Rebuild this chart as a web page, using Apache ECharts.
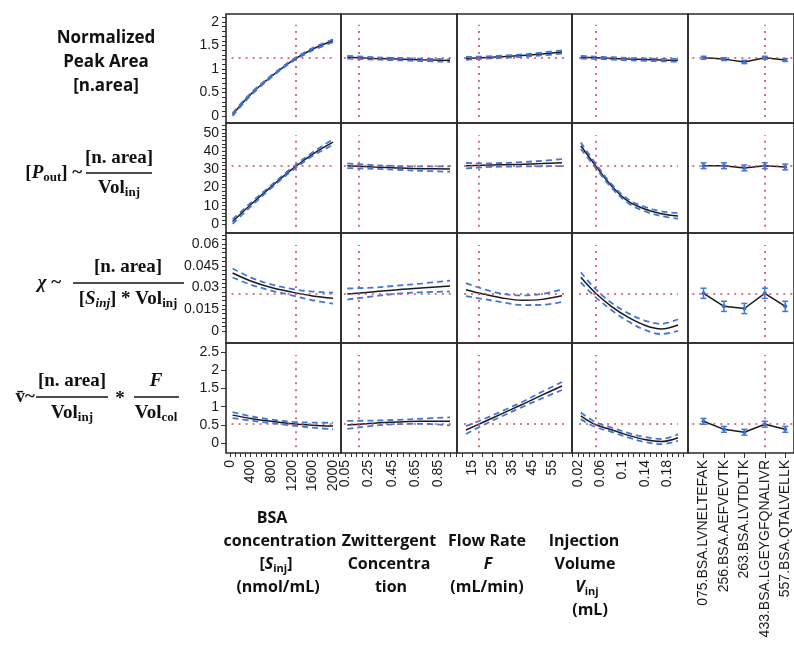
<!DOCTYPE html>
<html>
<head>
<meta charset="utf-8">
<script src="https://cdn.jsdelivr.net/npm/echarts/dist/echarts.min.js"></script>
<style>
  html, body { margin: 0; padding: 0; background: #fff; }
  #chart { width: 794px; height: 654px; }
</style>
</head>
<body>
<div id="chart"></div>
<script>
// ---- factor settings along each profile ----
const bsaLevels  = [50, 400, 800, 1200, 1600, 2000];
const zwLevels   = [0.07, 0.3, 0.5, 0.7, 0.95];
const flowLevels = [12, 20, 30, 40, 50, 60];
const volLevels  = [0.025, 0.05, 0.08, 0.11, 0.14, 0.17, 0.2];
const peptides   = ['075.BSA.LVNELTEFAK', '256.BSA.AEFVEVTK', '263.BSA.LVTDLTK',
                    '433.BSA.LGEYGFQNALIVR', '557.BSA.QTALVELLK'];

// ---- tick labels ----
const bsaTicks  = [0, 400, 800, 1200, 1600, 2000];
const zwTicks   = [0.05, 0.25, 0.45, 0.65, 0.85];
const flowTicks = [15, 25, 35, 45, 55];
const volTicks  = [0.02, 0.06, 0.1, 0.14, 0.18];
const pepTicks  = [0, 1, 2, 3, 4];
const areaTicks = [0, 0.5, 1, 1.5, 2];
const poutTicks = [0, 10, 20, 30, 40, 50];
const chiTicks  = [0, 0.015, 0.03, 0.045, 0.06];
const vbarTicks = [0, 0.5, 1, 1.5, 2, 2.5];

// ---- current settings (profiler cross-hairs) ----
const currentX = [1282, 0.17, 18.5, 0.052, 3];
const currentY = [1.24, 32, 0.026, 0.52];

// ---- Normalized peak area ----
const areaByBsa   = [0.03, 0.46, 0.84, 1.17, 1.42, 1.6];
const areaBsaCi   = [0.03, 0.025, 0.02, 0.02, 0.025, 0.03];
const areaByZw    = [1.25, 1.225, 1.21, 1.195, 1.18];
const areaZwCi    = [0.03, 0.025, 0.025, 0.025, 0.03];
const areaByFlow  = [1.225, 1.24, 1.26, 1.285, 1.32, 1.36];
const areaFlowCi  = [0.03, 0.025, 0.025, 0.025, 0.03, 0.035];
const areaByVol   = [1.25, 1.24, 1.225, 1.21, 1.2, 1.19, 1.185];
const areaVolCi   = [0.03, 0.025, 0.025, 0.025, 0.025, 0.025, 0.03];
const areaByPep   = [1.24, 1.21, 1.15, 1.24, 1.19];
const areaPepErr  = [0.03, 0.03, 0.035, 0.03, 0.03];

// ---- [P_out] ----
const poutByBsa   = [1.3, 10.5, 20.5, 30, 38.3, 45];
const poutBsaCi   = [1.2, 1, 0.8, 0.8, 1, 1.5];
const poutByZw    = [32, 31.3, 30.8, 30.4, 30.2];
const poutZwCi    = [1.3, 1, 1, 1.2, 1.5];
const poutByFlow  = [32, 32.2, 32.5, 32.8, 33.2, 33.7];
const poutFlowCi  = [1.5, 1.1, 1, 1.2, 1.5, 1.9];
const poutByVol   = [43, 32.7, 21, 12.5, 8.2, 5.6, 4.4];
const poutVolCi   = [1.8, 1.2, 1, 1, 1.2, 1.3, 1.6];
const poutByPep   = [32, 32, 30.8, 32, 31.3];
const poutPepErr  = [1.6, 1.6, 1.6, 1.6, 1.6];

// ---- chi ----
const chiByBsa    = [0.040, 0.0345, 0.030, 0.0268, 0.0242, 0.0226];
const chiBsaCi    = [0.0031, 0.0025, 0.0021, 0.0022, 0.003, 0.0038];
const chiByZw     = [0.0255, 0.027, 0.0285, 0.0297, 0.031];
const chiZwCi     = [0.0038, 0.003, 0.0028, 0.003, 0.0038];
const chiByFlow   = [0.0285, 0.0257, 0.0228, 0.0212, 0.0218, 0.0243];
const chiFlowCi   = [0.0045, 0.0035, 0.003, 0.0033, 0.0038, 0.0043];
const chiByVol    = [0.037, 0.0267, 0.017, 0.0095, 0.004, 0.0014, 0.0041];
const chiVolCi    = [0.0035, 0.0028, 0.0025, 0.0028, 0.0032, 0.0035, 0.004];
const chiByPep    = [0.026, 0.017, 0.0155, 0.026, 0.017];
const chiPepErr   = [0.0035, 0.0035, 0.0035, 0.0035, 0.0035];

// ---- mean velocity ----
const vbarByBsa   = [0.77, 0.68, 0.6, 0.535, 0.495, 0.47];
const vbarBsaCi   = [0.08, 0.06, 0.05, 0.05, 0.07, 0.09];
const vbarByZw    = [0.5, 0.55, 0.58, 0.6, 0.6];
const vbarZwCi    = [0.11, 0.07, 0.06, 0.07, 0.11];
const vbarByFlow  = [0.36, 0.56, 0.81, 1.06, 1.32, 1.57];
const vbarFlowCi  = [0.11, 0.08, 0.07, 0.07, 0.09, 0.11];
const vbarByVol   = [0.75, 0.52, 0.37, 0.22, 0.1, 0.045, 0.15];
const vbarVolCi   = [0.09, 0.07, 0.06, 0.06, 0.07, 0.07, 0.09];
const vbarByPep   = [0.6, 0.38, 0.3, 0.52, 0.38];
const vbarPepErr  = [0.08, 0.08, 0.08, 0.08, 0.08];

// ---- layout of the 4 x 5 profiler panels ----
const colLeft  = [226, 341, 457, 572, 688];
const colWidth = [115, 116, 115, 116, 109];
const rowTop   = [14, 123, 233, 343];
const rowH     = [109, 110, 110, 110];

function steps(a, b, s) {
  const out = [];
  for (let k = 0; a + k * s <= b + s * 1e-6; k++) out.push(+(a + k * s).toFixed(6));
  return out;
}

const levels = [bsaLevels, zwLevels, flowLevels, volLevels];
// tick marks include the finer subdivisions; labels only sit on the main ticks
const cols = [
  { min: -78,    max: 2155,  ticks: bsaTicks,  marks: steps(0, 2100, 100),    span: [30, 1990] },
  { min: 0.016,  max: 1.01,  ticks: zwTicks,   marks: steps(0.05, 1.0, 0.05), span: [0.04, 0.96] },
  { min: 7.5,    max: 65,    ticks: flowTicks, marks: steps(10, 60, 5),       span: [11, 61] },
  { min: 0.0092, max: 0.218, ticks: volTicks,  marks: steps(0.01, 0.21, 0.01), span: [0.022, 0.2] },
  { min: -0.76,  max: 4.43,  ticks: pepTicks,  marks: pepTicks,               span: [-0.55, 4.43] }
];
const rows = [
  { min: -0.149, max: 2.17,   ticks: areaTicks, marks: steps(0, 2.1, 0.1),
    vspan: [-0.02, 1.94], curves: [areaByBsa, areaByZw, areaByFlow, areaByVol],
    cis: [areaBsaCi, areaZwCi, areaFlowCi, areaVolCi], pep: areaByPep, pepErr: areaPepErr },
  { min: -5,     max: 55.5,   ticks: poutTicks, marks: steps(0, 54, 2),
    vspan: [-1.6, 48.9], curves: [poutByBsa, poutByZw, poutByFlow, poutByVol],
    cis: [poutBsaCi, poutZwCi, poutFlowCi, poutVolCi], pep: poutByPep, pepErr: poutPepErr },
  { min: -0.0083, max: 0.0676, ticks: chiTicks, marks: steps(0, 0.066, 0.003),
    vspan: [-0.0041, 0.0593], curves: [chiByBsa, chiByZw, chiByFlow, chiByVol],
    cis: [chiBsaCi, chiZwCi, chiFlowCi, chiVolCi], pep: chiByPep, pepErr: chiPepErr },
  { min: -0.27,  max: 2.75,   ticks: vbarTicks, marks: vbarTicks,
    vspan: [-0.11, 2.42], curves: [vbarByBsa, vbarByZw, vbarByFlow, vbarByVol],
    cis: [vbarBsaCi, vbarZwCi, vbarFlowCi, vbarVolCi], pep: vbarByPep, pepErr: vbarPepErr }
];

const INK = '#1a1a1a';
const BLUE = '#4676d4';
const REF = '#d24a5e';
const tickFont = 'Liberation Sans';

const grid = [], xAxis = [], yAxis = [], series = [];

rows.forEach((row, r) => {
  cols.forEach((col, c) => {
    const g = r * 5 + c;
    grid.push({ left: colLeft[c], top: rowTop[r], width: colWidth[c], height: rowH[r],
                show: true, borderColor: '#2a2a2a', borderWidth: 1.6 });
    const bottom = r === 3;
    xAxis.push({
      gridIndex: g, type: 'value', min: col.min, max: col.max, position: 'bottom',
      axisLine: { show: false, onZero: false }, splitLine: { show: false },
      axisTick: { show: bottom, customValues: col.marks, length: c === 4 ? 5 : 4,
                  lineStyle: { color: '#333', width: 1 } },
      axisLabel: {
        show: bottom, customValues: col.ticks, rotate: 90, margin: 7, fontSize: 14,
        fontFamily: tickFont, color: INK,
        formatter: c === 4 ? (v => peptides[Math.round(v)]) : (v => String(v))
      }
    });
    const first = c === 0;
    yAxis.push({
      gridIndex: g, type: 'value', min: row.min, max: row.max, position: 'left',
      axisLine: { show: false, onZero: false }, splitLine: { show: false },
      axisTick: { show: first, customValues: row.marks, length: r === 3 ? 5 : 4,
                  lineStyle: { color: '#333', width: 1 } },
      axisLabel: { show: first, customValues: row.ticks, margin: 7, fontSize: 14,
                   fontFamily: tickFont, color: INK, formatter: v => String(v) }
    });

    const refLines = {
      silent: true, symbol: ['none', 'none'], label: { show: false },
      lineStyle: { color: REF, type: [2, 5], width: 1.6 },
      emphasis: { disabled: true },
      data: [
        [{ coord: [col.span[0], currentY[r]] }, { coord: [col.span[1], currentY[r]] }],
        [{ coord: [currentX[c], row.vspan[0]] }, { coord: [currentX[c], row.vspan[1]] }]
      ]
    };

    if (c < 4) {
      const xs = levels[c], ys = row.curves[c], ci = row.cis[c];
      const lower = xs.map((x, i) => [x, ys[i] - ci[i]]);
      const upper = xs.map((x, i) => [x, ys[i] + ci[i]]);
      const mid = xs.map((x, i) => [x, ys[i]]);
      const common = { xAxisIndex: g, yAxisIndex: g, type: 'line', smooth: 0.35, symbol: 'none',
                       silent: true, animation: false };
      series.push(Object.assign({}, common, { data: mid, z: 3,
        lineStyle: { color: INK, width: 1.5 }, markLine: refLines }));
      series.push(Object.assign({}, common, { data: lower, z: 4,
        lineStyle: { color: BLUE, width: 1.8, type: [6, 4] } }));
      series.push(Object.assign({}, common, { data: upper, z: 4,
        lineStyle: { color: BLUE, width: 1.8, type: [6, 4] } }));
    } else {
      const pts = row.pep.map((v, i) => [i, v]);
      series.push({ xAxisIndex: g, yAxisIndex: g, type: 'line', data: pts, z: 3,
        symbol: 'circle', symbolSize: 4, itemStyle: { color: '#2f5fbf' },
        lineStyle: { color: INK, width: 1.5 }, silent: true, animation: false, markLine: refLines });
      const bars = row.pep.map((v, i) => [i, v - row.pepErr[i], v + row.pepErr[i]]);
      series.push({
        xAxisIndex: g, yAxisIndex: g, type: 'custom', data: bars, z: 4, silent: true, animation: false,
        encode: { x: 0, y: [1, 2] },
        renderItem: (params, api) => {
          const lo = api.coord([api.value(0), api.value(1)]);
          const hi = api.coord([api.value(0), api.value(2)]);
          const w = 3, st = { stroke: '#3f78d8', lineWidth: 1.5 };
          return { type: 'group', children: [
            { type: 'line', shape: { x1: lo[0], y1: lo[1], x2: hi[0], y2: hi[1] }, style: st },
            { type: 'line', shape: { x1: lo[0] - w, y1: lo[1], x2: lo[0] + w, y2: lo[1] }, style: st },
            { type: 'line', shape: { x1: hi[0] - w, y1: hi[1], x2: hi[0] + w, y2: hi[1] }, style: st }
          ] };
        }
      });
    }
  });
});

// ---- text labels: response formulas and factor names ----
const mctx = document.createElement('canvas').getContext('2d');
const SERIF = '"Liberation Serif", "DejaVu Serif", serif';
const B   = 'bold 19px ' + SERIF;
const BI  = 'bold italic 19px ' + SERIF;
const SUB = 'bold 13px ' + SERIF;
const SUBI = 'bold italic 13px ' + SERIF;
const SANS = 'bold 17px "Open Sans", sans-serif';
const COL = 'bold 16px "Open Sans", sans-serif';
const COLI = 'bold italic 16px "Open Sans", sans-serif';
const COLSUB = 'bold 11px "Open Sans", sans-serif';

const texts = [];
function run(parts, x, y, anchor) {
  const widths = parts.map(p => { mctx.font = p[1]; return mctx.measureText(p[0]).width; });
  const total = widths.reduce((a, b) => a + b, 0);
  let sx = anchor === 'center' ? x - total / 2 : anchor === 'right' ? x - total : x;
  parts.forEach((p, i) => {
    texts.push({ type: 'text', x: sx, y: y + (p[2] || 0), silent: true,
      style: { text: p[0], font: p[1], fill: '#111', textAlign: 'left', textVerticalAlign: 'middle' } });
    sx += widths[i];
  });
}
function bar(x1, x2, y) {
  texts.push({ type: 'line', silent: true, shape: { x1: x1, y1: y, x2: x2, y2: y },
               style: { stroke: '#111', lineWidth: 1.4 } });
}

// Normalized peak area
run([['Normalized', SANS]], 106, 38, 'center');
run([['Peak Area', SANS]], 106, 62, 'center');
run([['[n.area]', SANS]], 106, 86, 'center');

// [P_out] ~ [n. area] / Vol_inj
run([['[', B], ['P', BI], ['out', SUB, 5], [']', B], [' ~ ', B]], 87, 173, 'right');
run([['[n. area]', B]], 119, 158, 'center');
bar(86, 152, 173);
run([['Vol', B], ['inj', SUB, 5]], 119, 188, 'center');

// chi ~ [n. area] / ([S_inj] * Vol_inj)
run([['\u03C7', BI], [' ~ ', B]], 66, 283, 'right');
run([['[n. area]', B]], 128, 267, 'center');
bar(73, 184, 283);
run([['[', B], ['S', BI], ['inj', SUBI, 5], [']', B], [' * ', B], ['Vol', B], ['inj', SUB, 5]], 128, 299, 'center');

// v-bar ~ [n. area]/Vol_inj * F/Vol_col
run([['v\u0304', B], ['~', B]], 35, 397, 'right');
run([['[n. area]', B]], 72, 381, 'center');
bar(36, 108, 397);
run([['Vol', B], ['inj', SUB, 5]], 72, 413, 'center');
run([['*', B]], 120, 399, 'center');
run([['F', BI]], 156, 381, 'center');
bar(134, 179, 397);
run([['Vol', B], ['col', SUB, 5]], 156, 413, 'center');

// factor names under the columns
run([['BSA', COL]], 272, 518, 'center');
run([['concentration', COL]], 280, 541, 'center');
run([['[', COL], ['S', COLI], ['inj', COLSUB, 5], [']', COL]], 276, 564, 'center');
run([['(nmol/mL)', COL]], 278, 587, 'center');

run([['Zwittergent', COL]], 389, 541, 'center');
run([['Concentra', COL]], 389, 564, 'center');
run([['tion', COL]], 391, 587, 'center');

run([['Flow Rate', COL]], 487, 541, 'center');
run([['F', COLI]], 488, 564, 'center');
run([['(mL/min)', COL]], 487, 587, 'center');

run([['Injection', COL]], 584, 541, 'center');
run([['Volume', COL]], 585, 564, 'center');
run([['V', COLI], ['inj', COLSUB, 5]], 587, 587, 'center');
run([['(mL)', COL]], 590, 610, 'center');

const chart = echarts.init(document.getElementById('chart'), null, { renderer: 'canvas' });
chart.setOption({
  backgroundColor: '#fff',
  animation: false,
  grid: grid,
  xAxis: xAxis,
  yAxis: yAxis,
  series: series,
  graphic: { elements: texts }
});
</script>
</body>
</html>
